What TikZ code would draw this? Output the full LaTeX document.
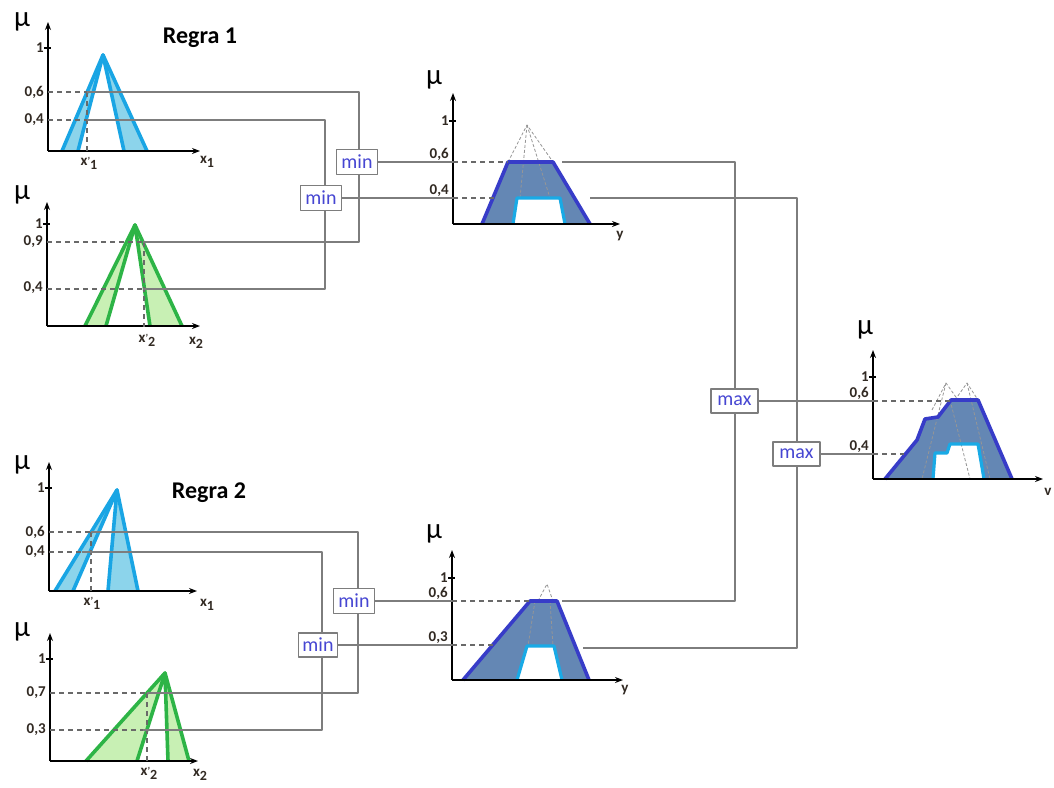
\documentclass[tikz,border=0pt]{standalone}
\usepackage{fontspec}
\setmainfont{Carlito}
\usetikzlibrary{arrows.meta}
\definecolor{linec}{RGB}{125,125,125}
\definecolor{guidec}{RGB}{105,105,105}
\definecolor{faintc}{RGB}{150,150,150}
\definecolor{tickc}{RGB}{50,42,35}
\definecolor{opc}{RGB}{70,70,210}
\definecolor{triB}{RGB}{25,165,228}
\definecolor{triBf}{RGB}{140,212,235}
\definecolor{triG}{RGB}{45,180,70}
\definecolor{triGf}{RGB}{200,240,180}
\definecolor{trapL}{RGB}{55,60,200}
\definecolor{trapF}{RGB}{100,135,180}
\definecolor{trapC}{RGB}{25,170,230}
% axis labels: x with subscript, optionally primed
\newcommand\xsb[1]{x\raisebox{-4pt}{\fontsize{14}{14}\selectfont\bfseries #1}}
\newcommand\xpsb[1]{x\raisebox{1pt}{\fontsize{10}{10}\selectfont '}\raisebox{-4pt}{\fontsize{14}{14}\selectfont\bfseries #1}}
\begin{document}
\begin{tikzpicture}[x=1pt,y=-1pt,line join=round,
  axisline/.style={line width=1.3pt,-{Stealth[length=8pt,width=6pt]}},
  tickm/.style={line width=1.2pt},
  guide/.style={draw=guidec,line width=1.1pt,dash pattern=on 5pt off 4pt},
  faint/.style={draw=faintc,line width=0.8pt,dash pattern=on 3pt off 2pt},
  conn/.style={draw=linec,line width=1.4pt},
  triline/.style={line width=3.6pt},
  lbl/.style={font=\fontsize{15}{15}\selectfont\bfseries,text=tickc,inner sep=0pt},
  axl/.style={font=\fontsize{15}{15}\selectfont\bfseries,text=tickc,inner sep=0pt},
  mul/.style={font=\fontsize{29}{29}\selectfont,inner sep=0pt},
  opbox/.style={draw=linec,line width=1.5pt,fill=white,minimum height=25pt,inner sep=0pt,font=\fontsize{20}{20}\selectfont,text=opc},
  minbox/.style={opbox,minimum width=41pt},
  maxbox/.style={opbox,minimum width=47pt,minimum height=24pt},
  ttl/.style={font=\fontsize{24}{24}\selectfont\bfseries,inner sep=0pt},
]
\useasboundingbox[fill=white] (0,0) rectangle (1054,787);

% ---------------- Regra 1, input x1 ----------------
\fill[triBf] (62,151) -- (103,55) -- (147,151) -- cycle;
\fill[white] (78,151) -- (103,55) -- (124,151) -- cycle;
\draw[triB,triline] (62,151) -- (103,55) -- (147,151);
\draw[triB,triline] (78,151) -- (103,55) -- (124,151);
\draw[axisline] (48,151) -- (48,22);
\draw[axisline] (48,151) -- (200,151);
\draw[tickm] (44,48) -- (51,48);
\node[mul] (muA) at (22,22) {µ};
\node[lbl,anchor=east] (A1l) at (44,48) {1};
\node[lbl,anchor=east] (A6l) at (44,92) {0,6};
\node[lbl,anchor=east] (A4l) at (44,120) {0,4};
\node[axl] (Axp) at (89,163) {\xpsb{1}};
\node[axl] (Ax) at (207,162) {\xsb{1}};
\node[ttl] (r1) at (200,38) {Regra 1};
\coordinate (A6) at (87,92);
\coordinate (A4) at (87,120);
\draw[guide] (48,92) -- (A6);
\draw[guide] (48,120) -- (A4);
\draw[guide] (A6) -- (87,152);

% ---------------- Regra 1, input x2 ----------------
\fill[triGf] (85,326) -- (135,225) -- (182,326) -- cycle;
\fill[white] (106,326) -- (135,225) -- (150,326) -- cycle;
\draw[triG,triline] (85,326) -- (135,225) -- (182,326);
\draw[triG,triline] (106,326) -- (135,225) -- (150,326);
\draw[axisline] (47,326) -- (47,202);
\draw[axisline] (47,326) -- (200,326);
\draw[tickm] (43,224) -- (50,224);
\node[mul] (muB) at (22,195) {µ};
\node[lbl,anchor=east] (B1l) at (43,224) {1};
\node[lbl,anchor=east] (B9l) at (43,242) {0,9};
\node[lbl,anchor=east] (B4l) at (43,288) {0,4};
\node[axl] (Bxp) at (147,340) {\xpsb{2}};
\node[axl] (Bx) at (196,343) {\xsb{2}};
\coordinate (B9) at (143,242);
\coordinate (B4) at (143,289);
\draw[guide] (47,242) -- (B9);
\draw[guide] (47,289) -- (B4);
\draw[guide] (144,242) -- (144,327);

% ---------------- Regra 2, input x1 ----------------
\fill[triBf] (55,591) -- (117,490) -- (138,591) -- cycle;
\fill[white] (73,591) -- (117,490) -- (108,591) -- cycle;
\draw[triB,triline] (55,591) -- (117,490) -- (138,591);
\draw[triB,triline] (73,591) -- (117,490) -- (108,591);
\draw[axisline] (49,591) -- (49,462);
\draw[axisline] (49,591) -- (197,591);
\draw[tickm] (45,488) -- (52,488);
\node[mul] (muC) at (22,465) {µ};
\node[lbl,anchor=east] (C1l) at (45,488) {1};
\node[lbl,anchor=east] (C6l) at (45,532) {0,6};
\node[lbl,anchor=east] (C4l) at (45,552) {0,4};
\node[axl] (Cxp) at (92,603) {\xpsb{1}};
\node[axl] (Cx) at (207,605) {\xsb{1}};
\node[ttl] (r2) at (209,493) {Regra 2};
\coordinate (C6) at (91,532);
\coordinate (C4) at (82,552);
\draw[guide] (49,532) -- (C6);
\draw[guide] (49,552) -- (C4);
\draw[guide] (C6) -- (91,592);

% ---------------- Regra 2, input x2 ----------------
\fill[triGf] (86,761) -- (165,673) -- (189,761) -- cycle;
\fill[white] (137,761) -- (165,673) -- (168,761) -- cycle;
\draw[triG,triline] (86,761) -- (165,673) -- (189,761);
\draw[triG,triline] (137,761) -- (165,673) -- (168,761);
\draw[axisline] (50,761) -- (50,633);
\draw[axisline] (50,761) -- (198,761);
\draw[tickm] (46,659) -- (53,659);
\node[mul] (muD) at (22,632) {µ};
\node[lbl,anchor=east] (D1l) at (46,659) {1};
\node[lbl,anchor=east] (D7l) at (46,693) {0,7};
\node[lbl,anchor=east] (D3l) at (46,730) {0,3};
\node[axl] (Dxp) at (149,773) {\xpsb{2}};
\node[axl] (Dx) at (200,775) {\xsb{2}};
\coordinate (D7) at (147,693);
\coordinate (D3) at (143,730);
\draw[guide] (50,693) -- (D7);
\draw[guide] (50,730) -- (D3);
\draw[guide] (D7) -- (147,762);

% ---------------- Regra 1, output y ----------------
\filldraw[fill=trapF,draw=none] (482,224) -- (508,162) -- (553,162) -- (590,224) -- cycle;
\filldraw[fill=white,draw=none] (513,224) -- (517,198) -- (560,198) -- (565,224) -- cycle;
\draw[faint] (508,162) -- (527,125) -- (553,162);
\draw[faint] (527,125) -- (520,198);
\draw[faint] (527,125) -- (550,198);
\draw[trapL,triline] (482,224) -- (508,162) -- (553,162) -- (590,224);
\draw[trapC,line width=3.2pt] (513,224) -- (517,198) -- (560,198) -- (565,224);
\draw[axisline] (453,224) -- (453,93);
\draw[axisline] (453,224) -- (620,224);
\draw[tickm] (449,121) -- (456,121);
\node[mul] (muY1) at (434,80) {µ};
\node[lbl,anchor=east] (Y11l) at (449,121) {1};
\node[lbl,anchor=south east] (Y16l) at (449,161) {0,6};
\node[lbl,anchor=south east] (Y14l) at (449,197) {0,4};
\node[axl] (Y1y) at (620,236) {y};
\coordinate (Y1a6) at (453,162);
\coordinate (Y1t6) at (508,162);
\coordinate (Y1a4) at (453,198);
\coordinate (Y1t4) at (494,198);
\coordinate (Y1r6) at (562,162);
\coordinate (Y1r4) at (590,198);
\draw[guide] (Y1a6) -- (Y1t6);
\draw[guide] (Y1a4) -- (Y1t4);

% ---------------- Regra 2, output y ----------------
\filldraw[fill=trapF,draw=none] (463,680) -- (530,601) -- (557,601) -- (589,680) -- cycle;
\filldraw[fill=white,draw=none] (517,680) -- (527,646) -- (554,646) -- (562,680) -- cycle;
\draw[faint] (538,601) -- (547,584) -- (553,601);
\draw[faint] (535,601) -- (528,646);
\draw[faint] (550,601) -- (553,646);
\draw[trapL,triline] (463,680) -- (530,601) -- (557,601) -- (589,680);
\draw[trapC,line width=3.2pt] (517,680) -- (527,646) -- (554,646) -- (562,680);
\draw[axisline] (452,680) -- (452,550);
\draw[axisline] (452,680) -- (623,680);
\draw[tickm] (448,578) -- (455,578);
\node[mul] (muY2) at (434,534) {µ};
\node[lbl,anchor=east] (Y21l) at (448,578) {1};
\node[lbl,anchor=south east] (Y26l) at (448,600) {0,6};
\node[lbl,anchor=south east] (Y23l) at (448,644) {0,3};
\node[axl] (Y2y) at (625,690) {y};
\coordinate (Y2a6) at (452,601);
\coordinate (Y2t6) at (530,601);
\coordinate (Y2a3) at (452,645);
\coordinate (Y2t3) at (493,645);
\coordinate (Y2r6) at (562,601);
\coordinate (Y2r3) at (583,648);
\draw[guide] (Y2a6) -- (Y2t6);
\draw[guide] (Y2a3) -- (Y2t3);

% ---------------- aggregated output v ----------------
\filldraw[fill=trapF,draw=none] (885,479) -- (917,440) -- (925,419) -- (938,417) -- (951,400) -- (978,400) -- (1012,479) -- cycle;
\filldraw[fill=white,draw=none] (933,479) -- (935,453) -- (947,453) -- (950,444) -- (978,444) -- (984,479) -- cycle;
\draw[faint] (932,410) -- (946,383) -- (958,400);
\draw[faint] (955,400) -- (967,383) -- (978,400);
\draw[faint] (946,383) -- (922,479);
\draw[faint] (950,400) -- (970,479);
\draw[faint] (967,383) -- (990,479);
\draw[trapL,triline] (885,479) -- (917,440) -- (925,419) -- (938,417) -- (951,400) -- (978,400) -- (1012,479);
\draw[trapC,line width=3.2pt] (933,479) -- (935,453) -- (947,453) -- (950,444) -- (978,444) -- (984,479);
\draw[axisline] (873,479) -- (873,350);
\draw[axisline] (873,479) -- (1043,479);
\draw[tickm] (869,377) -- (876,377);
\node[mul] (muV) at (865,330) {µ};
\node[lbl,anchor=east] (V1l) at (869,377) {1};
\node[lbl,anchor=south east] (V6l) at (869,400) {0,6};
\node[lbl,anchor=south east] (V4l) at (869,453) {0,4};
\node[axl] (Vv) at (1048,492) {v};
\coordinate (Va6) at (873,401);
\coordinate (Vt6) at (951,401);
\coordinate (Va4) at (873,454);
\coordinate (Vt4) at (904,454);
\draw[guide] (Va6) -- (Vt6);
\draw[guide] (Va4) -- (Vt4);

% ---------------- connectors ----------------
\coordinate (vA) at (359,162);
\coordinate (vB) at (325,198);
\coordinate (vC) at (358,601);
\coordinate (vD) at (322,645);
\coordinate (vM1) at (735,401);
\coordinate (vM2) at (797,454);
\draw[conn] (A6) -| (vA) |- (B9);
\draw[conn] (A4) -| (vB) |- (B4);
\draw[conn] (C6) -| (vC) |- (D7);
\draw[conn] (C4) -| (vD) |- (D3);
\draw[conn] (Y1r6) -| (vM1) |- (Y2r6);
\draw[conn] (Y1r4) -| (vM2) |- (Y2r3);

\node[minbox] (minA) at (357,162) {min};
\node[minbox] (minB) at (321,198) {min};
\node[minbox] (minC) at (354,601) {min};
\node[minbox,minimum width=39pt,minimum height=24pt] (minD) at (318,645) {min};
\node[maxbox] (maxA) at (734.5,401) {max};
\node[maxbox] (maxB) at (796.5,454) {max};

\draw[conn] (minA.east) -- (Y1a6);
\draw[conn] (minB.east) -- (Y1a4);
\draw[conn] (minC.east) -- (Y2a6);
\draw[conn] (minD.east) -- (Y2a3);
\draw[conn] (maxA.east) -- (Va6);
\draw[conn] (maxB.east) -- (Va4);
\end{tikzpicture}
\end{document}
